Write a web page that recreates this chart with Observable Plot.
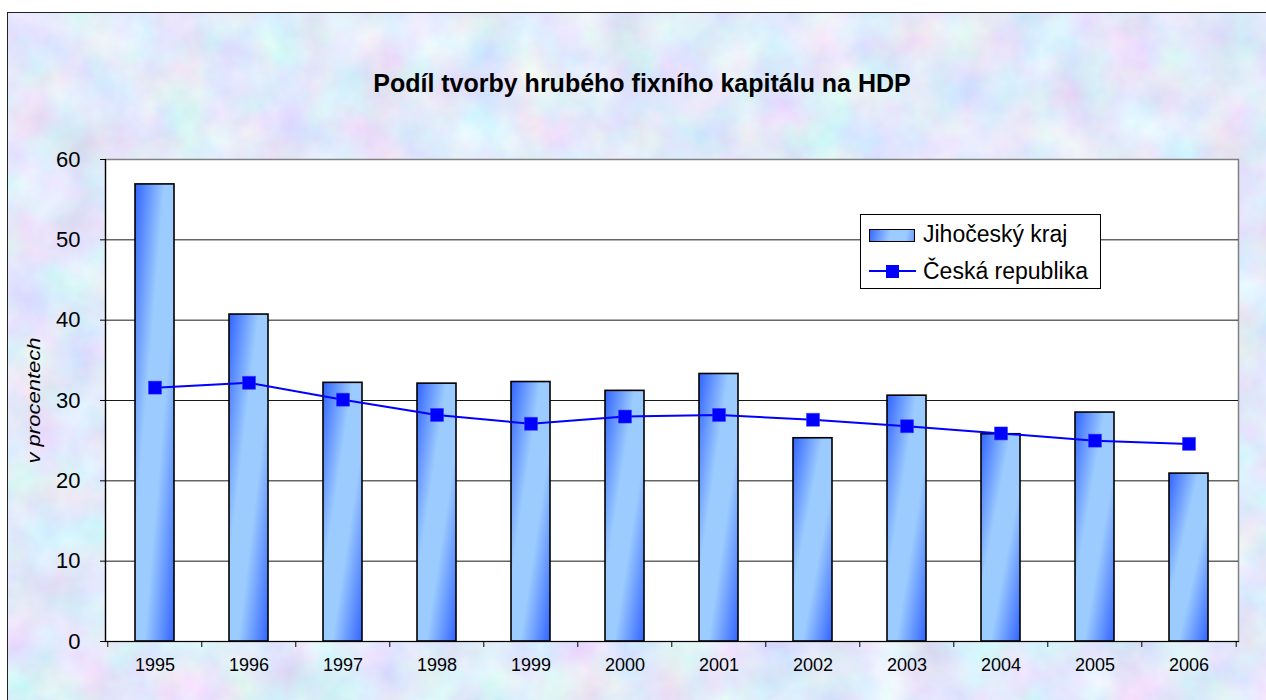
<!DOCTYPE html>
<html>
<head>
<meta charset="utf-8">
<script src="https://cdn.jsdelivr.net/npm/d3@7"></script>
<script src="https://cdn.jsdelivr.net/npm/@observablehq/plot@0.6"></script>
<style>
  html, body { margin: 0; padding: 0; background: #ffffff; }
  #wrap { position: relative; width: 1266px; height: 700px; overflow: hidden; font-family: "Liberation Sans", Arial, sans-serif; }
  #bg { position: absolute; left: 7px; top: 12px; width: 1300px; height: 720px; border-left: 1px solid #222; border-top: 1px solid #222; background-color: #c5cdef; }
  #title { position: absolute; left: 0; top: 0; width: 1266px; height: 130px; text-align: center; }
  #title span { position: absolute; left: 0; right: 0; top: 69px; font-weight: bold; font-size: 25px; color: #000; text-align: center; padding-left: 18px; }
  #chart { position: absolute; left: 0; top: 130px; }
  #legend { position: absolute; left: 860px; top: 214px; width: 241px; height: 75px; background: #fff; border: 1px solid #000; box-sizing: border-box; font-size: 23px; color: #000; }
  .sw1 { position: absolute; left: 8px; top: 14px; width: 46px; height: 13px; border: 1.5px solid #000; box-sizing: border-box; background: linear-gradient(100deg, #3a6cff 0%, #9ccbff 45%, #9ccbff 80%, #6f9dff 100%); }
  .sw2line { position: absolute; left: 8px; top: 55px; width: 47px; height: 2px; background: #0000ff; }
  .sw2sq { position: absolute; left: 25px; top: 50px; width: 13px; height: 13px; background: #0000ff; }
  .t1 { position: absolute; left: 62px; top: 6px; }
  .t2 { position: absolute; left: 62px; top: 43px; }
</style>
</head>
<body>
<div id="wrap">
  <div id="bg"></div>
  <div id="title"><span>Podíl tvorby hrubého fixního kapitálu na HDP</span></div>
  <div id="chart"></div>
  <div id="legend">
    <div class="sw1"></div><div class="t1">Jihočeský kraj</div>
    <div class="sw2line"></div><div class="sw2sq"></div><div class="t2">Česká republika</div>
  </div>
</div>
<script>
const years = ["1995","1996","1997","1998","1999","2000","2001","2002","2003","2004","2005","2006"];
const jihoceskyKraj = [56.9, 40.7, 32.2, 32.1, 32.3, 31.2, 33.3, 25.3, 30.6, 25.8, 28.5, 20.9];
const ceskaRepublika = [31.6, 32.2, 30.1, 28.2, 27.1, 28.0, 28.2, 27.6, 26.8, 25.9, 25.0, 24.6];
const yTicks = [0, 10, 20, 30, 40, 50, 60];
const gridTicks = [10, 20, 30, 40, 50];
const yLabel = "v procentech";

// textured background
const noise = `<svg xmlns="http://www.w3.org/2000/svg" width="1300" height="720"><filter id="f"><feTurbulence type="fractalNoise" baseFrequency="0.02" numOctaves="4" seed="7"/><feColorMatrix values="0.45 0 0 0 0.53  0 0.4 0 0 0.62  0 0 0.25 0 0.83  0 0 0 0 1"/></filter><rect width="100%" height="100%" filter="url(#f)"/></svg>`;
document.getElementById("bg").style.backgroundImage = `url("data:image/svg+xml,${encodeURIComponent(noise)}")`;

const rows = years.map((y, i) => ({year: y, jk: jihoceskyKraj[i], cr: ceskaRepublika[i]}));

const W = 1266, H = 570, mL = 105, mR = 28, mT = 29, mB = 59;
const band = (W - mL - mR) / years.length;

const chart = Plot.plot({
  width: W, height: H,
  marginLeft: mL, marginRight: mR, marginTop: mT, marginBottom: mB,
  style: {background: "transparent", fontFamily: "'Liberation Sans', Arial, sans-serif", color: "#000", overflow: "visible"},
  x: {type: "band", domain: years, paddingInner: 0.58, paddingOuter: 0.29, align: 0.5, label: null},
  y: {domain: [0, 60], label: null},
  marks: [
    Plot.frame({fill: "white", stroke: "#808080", strokeWidth: 1.5}),
    Plot.gridY(gridTicks, {stroke: "#000", strokeOpacity: 0.9, strokeWidth: 1}),
    Plot.barY(rows, {x: "year", y: "jk", fill: "url(#barGrad)", stroke: "#000", strokeWidth: 1.6}),
    Plot.line(rows, {x: "year", y: "cr", stroke: "#0000ff", strokeWidth: 2}),
    Plot.dot(rows, {x: "year", y: "cr", symbol: "square", r: 7.3, fill: "#0000ff", stroke: "#2a2aff", strokeWidth: 0.5}),
    Plot.frame({anchor: "left", stroke: "#000", strokeWidth: 1.2}),
    Plot.frame({anchor: "bottom", stroke: "#000", strokeWidth: 1.2}),
    Plot.ruleX(years, {x: d => d, y1: 0, y2: 0, dx: -band / 2, insetBottom: -6, stroke: "#000"}),
    Plot.ruleX(years.slice(-1), {x: d => d, y1: 0, y2: 0, dx: band / 2, insetBottom: -6, stroke: "#000"}),
    Plot.axisY(yTicks, {tickSize: 5, tickPadding: 20, fontSize: 22, stroke: "#000"}),
    Plot.axisX({tickSize: 0, tickPadding: 17, fontSize: 18}),
    Plot.text([yLabel], {frameAnchor: "left", textAnchor: "middle", dx: -71, dy: 0, rotate: -90, fontStyle: "italic", fontSize: 18, fill: "#000"})
  ]
});

// gradient definition for bars
const ns = "http://www.w3.org/2000/svg";
const defs = document.createElementNS(ns, "defs");
defs.innerHTML = `<linearGradient id="barGrad" x1="0" y1="0" x2="1" y2="1">
  <stop offset="0" stop-color="#3164ff"/>
  <stop offset="0.38" stop-color="#9ccbff"/>
  <stop offset="0.62" stop-color="#9ccbff"/>
  <stop offset="1" stop-color="#3164ff"/>
</linearGradient>`;
chart.insertBefore(defs, chart.firstChild);
// stretch the rotated axis title along its length, as in the original
chart.querySelectorAll("text").forEach(t => {
  if (t.textContent === yLabel) { t.setAttribute("textLength", 126); t.setAttribute("lengthAdjust", "spacingAndGlyphs"); }
});
document.getElementById("chart").appendChild(chart);
</script>
</body>
</html>
